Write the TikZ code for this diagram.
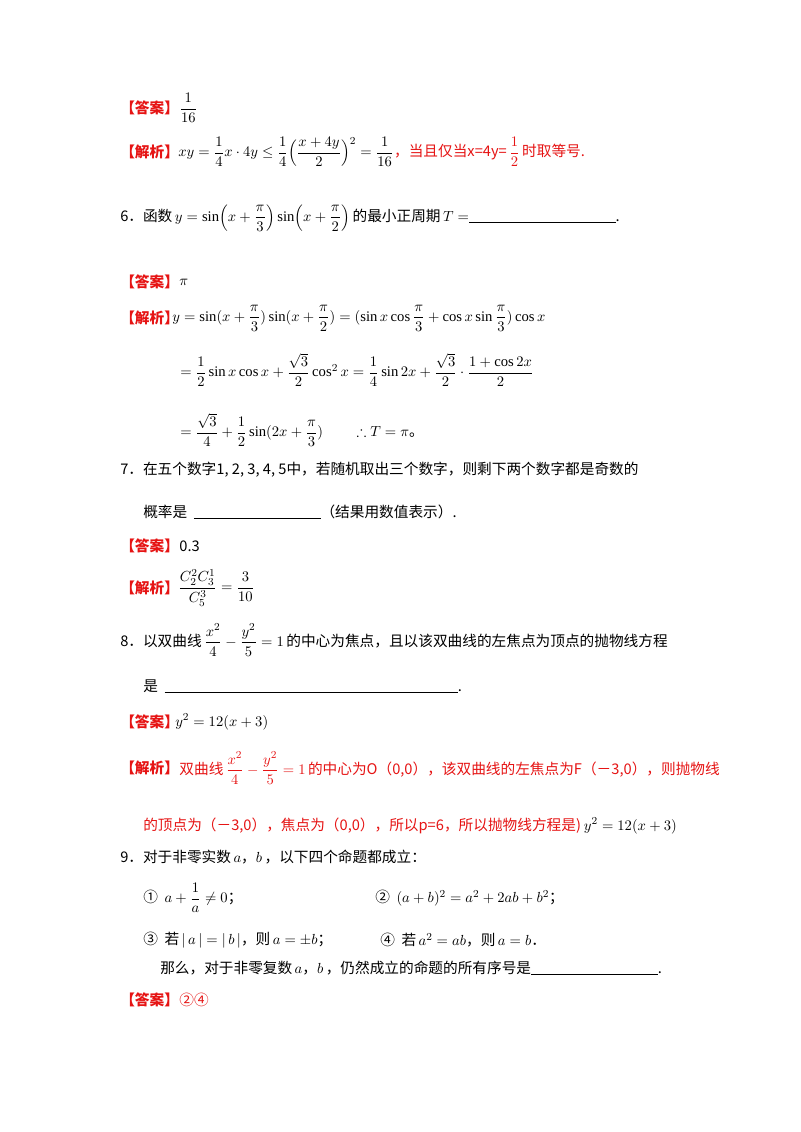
\documentclass[tikz,border=0pt]{standalone}
\usepackage{amsmath,amssymb}
\usepackage{fontspec}
\setmainfont{Liberation Serif}
\newfontfamily\cjk{Noto Sans CJK SC}
\definecolor{ansred}{RGB}{230,20,20}
\begin{document}
\begin{tikzpicture}[x=0.75pt,y=-0.75pt,
  t/.style={anchor=west,inner sep=0pt,font=\fontsize{11}{13}\selectfont\cjk},
  tag/.style={t,text=ansred,font=\fontsize{11}{13}\selectfont\cjk\bfseries},
  r/.style={t,text=ansred}]
\useasboundingbox[fill=white] (0,0) rectangle (800,1132);
\node[tag] (a5) at (120,108) {【答案】};
\node[t] (a5v) at (a5.east) [anchor=west] {$\dfrac{1}{16}$};
\node[tag] (j5) at (120,152) {【解析】};
\node[t] (j5e) at (178,152) {$xy=\dfrac14x\cdot4y\le\dfrac14\Big(\dfrac{x+4y}{2}\Big)^2=\dfrac1{16}$};
\node[r] (j5r) at (j5e.east) [anchor=west] {，当且仅当x=4y=\,$\dfrac12$\,时取等号.};

\node[t] (q6) at (120,218) {6．函数\,$y=\sin\!\Big(x+\dfrac{\pi}{3}\Big)\sin\!\Big(x+\dfrac{\pi}{2}\Big)$\,的最小正周期\,$T=$\rule[-1pt]{110pt}{0.5pt}.};
\node[tag] (a6) at (120,282) {【答案】};
\node[t] (a6v) at (a6.east) [anchor=west] {$\pi$};
\node[tag] (j6) at (120,318) {【解析】};
\node[t] (j6a) at (172,318) {$y=\sin(x+\dfrac{\pi}{3})\sin(x+\dfrac{\pi}{2})=(\sin x\cos\dfrac{\pi}{3}+\cos x\sin\dfrac{\pi}{3})\cos x$};
\node[t] (j6b) at (180,370) {$=\dfrac12\sin x\cos x+\dfrac{\sqrt3}{2}\cos^2x=\dfrac14\sin2x+\dfrac{\sqrt3}{2}\cdot\dfrac{1+\cos2x}{2}$};
\node[t] (j6c) at (180,430) {$=\dfrac{\sqrt3}{4}+\dfrac12\sin(2x+\dfrac{\pi}{3})\qquad\therefore T=\pi$。};

\node[t] (q7) at (120,470) {7．在五个数字1, 2, 3, 4, 5中，若随机取出三个数字，则剩下两个数字都是奇数的};
\node[t] (q7b) at (143,512) {概率是\ \ \rule[-1pt]{95pt}{0.5pt}（结果用数值表示）.};
\node[tag] (a7) at (120,546) {【答案】};
\node[t] (a7v) at (a7.east) [anchor=west] {0.3};
\node[tag] (j7) at (120,588) {【解析】};
\node[t] (j7e) at (178,588) {$\dfrac{C_2^2C_3^1}{C_5^3}=\dfrac{3}{10}$};

\node[t] (q8) at (120,640) {8．以双曲线\,$\dfrac{x^2}{4}-\dfrac{y^2}{5}=1$\,的中心为焦点，且以该双曲线的左焦点为顶点的抛物线方程};
\node[t] (q8b) at (143,686) {是\ \ \rule[-1pt]{220pt}{0.5pt}.};
\node[tag] (a8) at (120,722) {【答案】};
\node[t] (a8v) at (175,722) {$y^2=12(x+3)$};
\node[tag] (j8) at (120,768) {【解析】};
\node[r] (j8a) at (j8.east) [anchor=west] {双曲线\,$\dfrac{x^2}{4}-\dfrac{y^2}{5}=1$\,的中心为O（0,0），该双曲线的左焦点为F（－3,0），则抛物线};
\node[r] (j8b) at (143,826) {的顶点为（－3,0），焦点为（0,0），所以p=6，所以抛物线方程是)};
\node[t] (j8c) at (j8b.east) [anchor=west] {\,$y^2=12(x+3)$};

\node[t] (q9) at (120,857) {9．对于非零实数\,$a$，$b$\,，以下四个命题都成立：};
\node[t] (p1) at (143,898) {①\ \ $a+\dfrac1a\ne0$；};
\node[t] (p2) at (375,898) {②\ \ $(a+b)^2=a^2+2ab+b^2$；};
\node[t] (p3) at (143,940) {③\ \ 若\,$|\,a\,|=|\,b\,|$，则\,$a=\pm b$；};
\node[t] (p4) at (380,940) {④\ \ 若\,$a^2=ab$，则\,$a=b$．};
\node[t] (q9b) at (160,968) {那么，对于非零复数\,$a$，$b$\,，仍然成立的命题的所有序号是\rule[-1pt]{95pt}{0.5pt}.};
\node[tag] (a9) at (120,1000) {【答案】};
\node[r] (a9v) at (a9.east) [anchor=west] {②④};
\end{tikzpicture}
\end{document}
